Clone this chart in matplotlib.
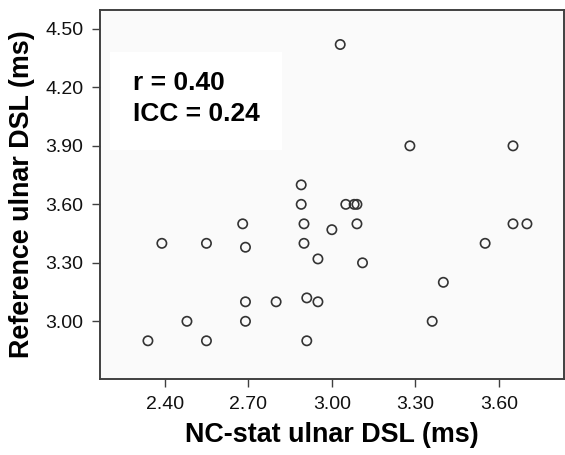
import matplotlib
matplotlib.use("Agg")
import matplotlib.pyplot as plt
from matplotlib.patches import Rectangle

plt.rcParams['font.family'] = ['Liberation Sans', 'DejaVu Sans']

nc_stat = [3.03, 3.28, 3.65, 2.89, 2.89, 3.05, 3.08, 3.09, 2.90, 3.00, 3.09,
           3.65, 3.70, 2.68, 2.39, 2.55, 2.69, 2.69, 2.80, 2.48, 2.69, 2.34,
           2.55, 2.90, 3.55, 2.95, 3.11, 3.40, 2.91, 2.95, 3.36, 2.91]
reference = [4.42, 3.90, 3.90, 3.70, 3.60, 3.60, 3.60, 3.60, 3.50, 3.47, 3.50,
             3.50, 3.50, 3.50, 3.40, 3.40, 3.38, 3.10, 3.10, 3.00, 3.00, 2.90,
             2.90, 3.40, 3.40, 3.32, 3.30, 3.20, 3.12, 3.10, 3.00, 2.90]
xticks = [2.40, 2.70, 3.00, 3.30, 3.60]
yticks = [3.00, 3.30, 3.60, 3.90, 4.20, 4.50]
stats_text = "r = 0.40\nICC = 0.24"

fig = plt.figure(figsize=(5.65, 4.55), dpi=100)
ax = fig.add_axes([100/565, 76/455, 464/565, 369/455])
ax.set_facecolor('#fafafa')

ax.set_xlim(2.168, 3.833)
ax.set_ylim(2.704, 4.597)

# white inset box behind stats text
box = Rectangle(((110-100)/464, (455-150-76)/369), (282-110)/464, (150-52)/369,
                transform=ax.transAxes, facecolor='white', edgecolor='none', zorder=0.5)
ax.add_patch(box)

ax.scatter(nc_stat, reference, s=45, facecolors='none', edgecolors='#333333',
           linewidths=1.2, zorder=3)

ax.set_xticks(xticks)
ax.set_xticklabels([f"{v:.2f}" for v in xticks])
ax.set_yticks(yticks)
ax.set_yticklabels([f"{v:.2f}" for v in yticks])
ax.tick_params(axis='both', direction='out', length=6, width=1, color='#404040',
               labelsize=14, labelcolor='#111111', pad=6)

for s in ax.spines.values():
    s.set_color('#404040')
    s.set_linewidth(1.4)

ax.set_xlabel("NC-stat ulnar DSL (ms)", fontsize=19.4, fontweight='bold', labelpad=7)
ax.set_ylabel("Reference ulnar DSL (ms)", fontsize=19.4, fontweight='bold', labelpad=7)

ax.text((133-100)/464, (455-71-76)/369, stats_text, transform=ax.transAxes,
        fontsize=19, fontweight='bold', va='top', ha='left', linespacing=1.35)

fig.savefig("out.png", dpi=100)
